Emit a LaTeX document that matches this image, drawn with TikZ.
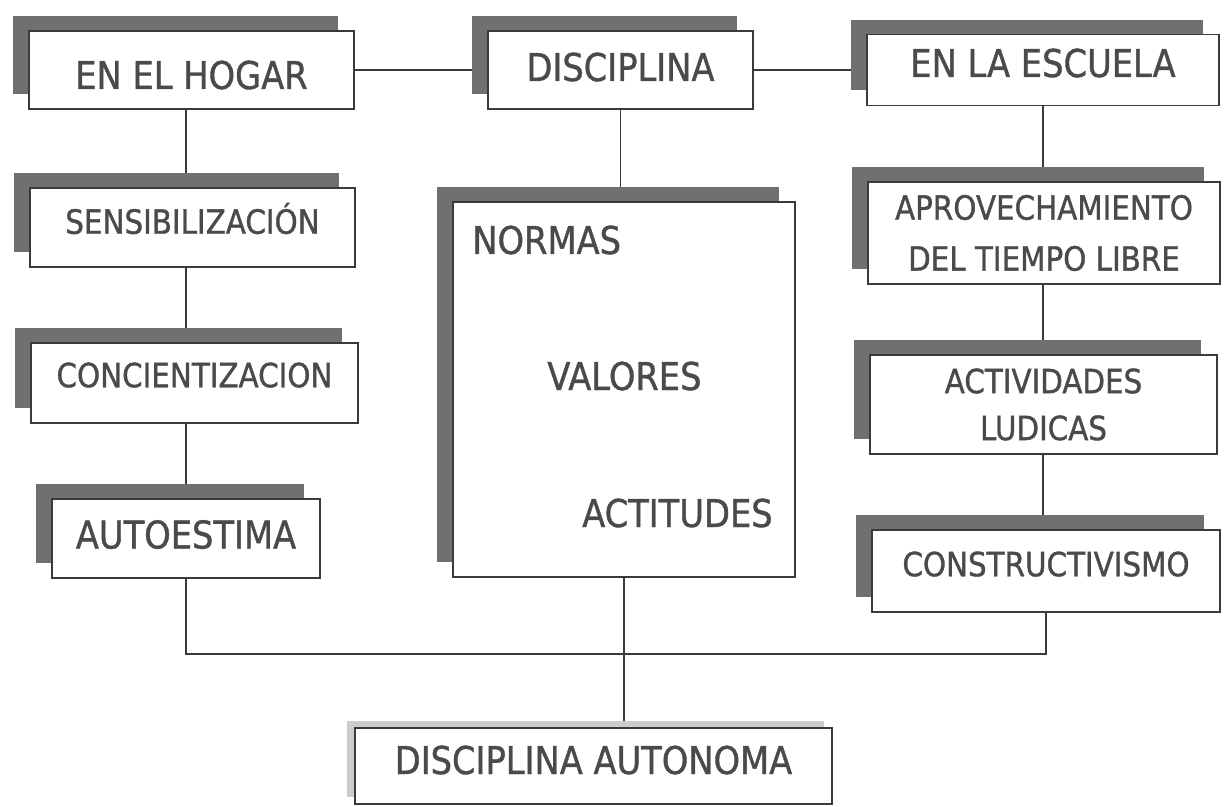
\documentclass[tikz,border=0pt]{standalone}
\usepackage{fontspec}
\setmainfont{DejaVu Sans}[FakeStretch=0.88, FakeBold=1]
\usetikzlibrary{shadows, backgrounds}
\definecolor{inkgray}{RGB}{74,74,74}
\definecolor{linegray}{RGB}{58,58,58}
\definecolor{shadegray}{RGB}{112,112,112}

\begin{document}
\begin{tikzpicture}[x=0.02cm, y=-0.02cm,
  box/.style={draw=linegray, line width=1.1pt, fill=white, text=inkgray,
    align=center, inner sep=0pt},
  dropshadow/.style={general shadow={fill=shadegray, shadow xshift=-0.32cm, shadow yshift=0.3cm}},
  txtl/.style={font=\fontsize{21.8}{26}\selectfont},
  txts/.style={font=\fontsize{19}{29}\selectfont},
  link/.style={draw=linegray, line width=1.1pt}]
 \useasboundingbox (0,0) rectangle (1226,807);

 % top row
 \node[box, dropshadow, txtl, minimum width=6.5cm, minimum height=1.56cm,
   text height=0.76cm, text depth=0cm] (hogar) at (191.5,70) {EN EL HOGAR};
 \node[box, dropshadow, txtl, minimum width=5.3cm, minimum height=1.56cm,
   text height=0.56cm, text depth=0.12cm] (disciplina) at (620.5,70) {DISCIPLINA};
 \node[box, dropshadow, txtl, minimum width=7.04cm, minimum height=1.42cm,
   text height=0.56cm, text depth=0.28cm] (escuela) at (1043,70) {EN LA ESCUELA};

 % left column
 \node[box, dropshadow, txts, minimum width=6.5cm, minimum height=1.58cm,
   text height=0.49cm, text depth=0.24cm] (sensib) at (192.5,227.5) {SENSIBILIZACIÓN};
 \node[box, dropshadow, txts, minimum width=6.54cm, minimum height=1.6cm,
   text height=0.49cm, text depth=0.32cm] (concient) at (194.5,383) {CONCIENTIZACION};
 \node[box, dropshadow, txtl, minimum width=5.36cm, minimum height=1.58cm,
   text height=0.56cm, text depth=0.16cm] (autoestima) at (186,538.5) {AUTOESTIMA};

 % middle
 \node[box, dropshadow, minimum width=6.84cm, minimum height=7.5cm] (bigbox) at (624,389.5) {};
 \node[txtl, text=inkgray, anchor=base west, inner sep=0pt] (normas) at (472,254) {NORMAS};
 \node[txtl, text=inkgray, anchor=base west, inner sep=0pt] (valores) at (547,390) {VALORES};
 \node[txtl, text=inkgray, anchor=base east, inner sep=0pt] (actitudes) at (773,527) {ACTITUDES};

 % right column
 \node[box, dropshadow, txts, minimum width=7.04cm, minimum height=2.04cm] (aprov) at (1044,233) {APROVECHAMIENTO\\DEL TIEMPO LIBRE};
 \node[box, dropshadow, font=\fontsize{19}{26.7}\selectfont, minimum width=6.94cm, minimum height=1.98cm] (activ) at (1043.5,404.5) {ACTIVIDADES\\LUDICAS};
 \node[box, dropshadow, txts, minimum width=6.96cm, minimum height=1.64cm,
   text height=0.49cm, text depth=0.28cm] (constr) at (1046,571) {CONSTRUCTIVISMO};

 % bottom
 \node[box, txtl, minimum width=9.54cm, minimum height=1.52cm,
   text height=0.56cm, text depth=0.24cm,
   general shadow={fill=gray!40, shadow xshift=-0.16cm, shadow yshift=0.14cm}] (autonoma) at (593.5,766) {DISCIPLINA AUTONOMA};

 \coordinate (join) at (625,654);

 \begin{scope}[on background layer]
  \draw[link] (hogar) -- (disciplina) -- (escuela);
  \draw[link] (hogar.south -| autoestima) -- (autoestima);
  \draw[link] (disciplina) -- (disciplina |- bigbox);
  \draw[link] (escuela) -- (escuela |- constr);
  \draw[link] (autoestima) |- (join) -| (constr);
  \draw[link] (bigbox) -- (bigbox |- autonoma);
 \end{scope}
\end{tikzpicture}
\end{document}
